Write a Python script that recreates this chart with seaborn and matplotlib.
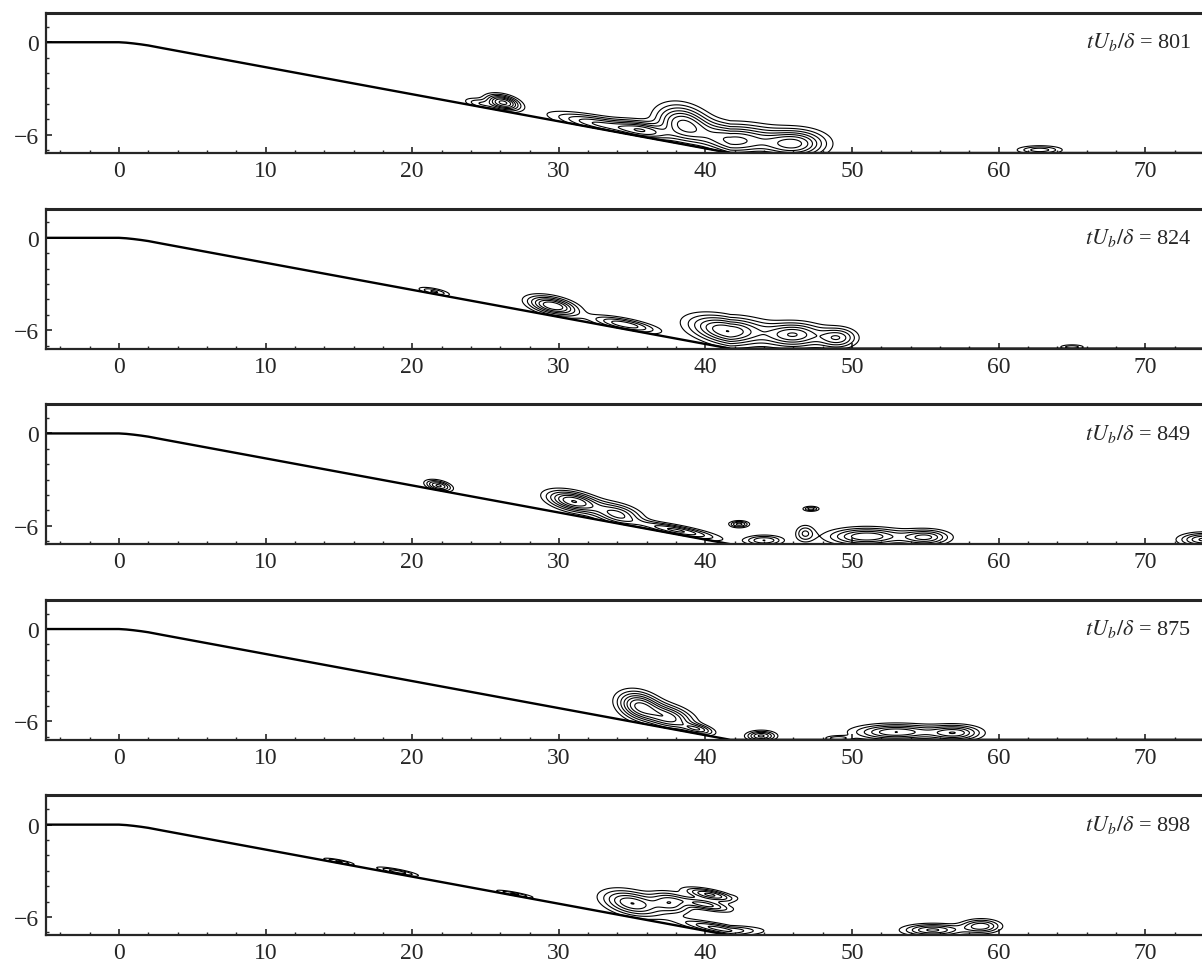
import numpy as np
import pandas as pd
import matplotlib
matplotlib.use("Agg")
import matplotlib.pyplot as plt
from matplotlib.ticker import MultipleLocator
import seaborn as sns

# ---------------- data ----------------
times = [801, 824, 849, 875, 898]
x_ticks = [0, 10, 20, 30, 40, 50, 60, 70]
y_ticks = [-6, 0]

# bed profile (flat, smooth bend, 10 degree slope, flat floor)
bed_x = [-5.0, 0.0, 0.5, 1.0, 1.5, 2.0, 3.0, 41.7, 75.0]
bed_y = [0.0, 0.0, -0.03, -0.08, -0.14, -0.21, -0.39, -7.2, -7.2]

# contour blobs per snapshot: (x centre, height above bed, x spread, height spread, amplitude)
blobs_801 = [(24.6, 0.20, 1.0, 0.30, 0.30), (26.2, 0.55, 1.0, 0.42, 0.90),
             (33.0, 0.30, 3.0, 0.45, 0.60), (35.8, 0.45, 1.6, 0.50, 0.60),
             (38.5, 1.30, 1.6, 1.05, 0.85), (42.0, 0.80, 2.4, 0.90, 0.90),
             (46.0, 0.60, 1.9, 0.80, 0.90), (62.8, 0.20, 1.4, 0.25, 0.40)]
blobs_824 = [(21.5, 0.15, 1.0, 0.20, 0.35), (29.6, 0.65, 1.5, 0.50, 0.85),
             (34.5, 0.30, 2.0, 0.35, 0.55), (41.5, 1.10, 2.3, 0.80, 0.85),
             (46.0, 0.90, 1.8, 0.70, 0.70), (49.0, 0.70, 1.2, 0.60, 0.55),
             (65.0, 0.10, 0.8, 0.15, 0.30)]
blobs_849 = [(21.8, 0.30, 0.8, 0.30, 0.60), (31.0, 0.90, 1.6, 0.55, 0.85),
             (34.0, 0.60, 1.5, 0.60, 0.60), (38.0, 0.25, 2.5, 0.30, 0.60),
             (42.3, 1.30, 0.6, 0.20, 0.50), (44.0, 0.25, 1.2, 0.30, 0.45),
             (46.8, 0.70, 0.6, 0.50, 0.35), (47.2, 2.30, 0.5, 0.15, 0.40),
             (51.0, 0.50, 2.3, 0.50, 0.70), (55.0, 0.45, 1.5, 0.45, 0.60),
             (74.0, 0.30, 1.5, 0.40, 0.60)]
blobs_875 = [(35.5, 1.10, 1.3, 0.80, 0.85), (37.5, 0.70, 1.5, 0.70, 0.75),
             (39.5, 0.30, 1.0, 0.30, 0.50), (43.8, 0.25, 0.9, 0.30, 0.60),
             (49.0, 0.10, 0.8, 0.15, 0.30), (53.0, 0.50, 2.5, 0.45, 0.70),
             (57.0, 0.45, 1.6, 0.45, 0.65)]
blobs_898 = [(15.0, 0.10, 1.0, 0.12, 0.35), (19.0, 0.15, 1.3, 0.15, 0.40),
             (27.0, 0.10, 1.2, 0.12, 0.35), (35.0, 0.90, 1.8, 0.70, 0.70),
             (37.6, 1.40, 1.2, 0.60, 0.50), (40.3, 2.40, 1.5, 0.30, 0.60),
             (40.0, 1.70, 1.6, 0.30, 0.50), (41.0, 0.30, 2.5, 0.30, 0.50),
             (55.5, 0.35, 1.8, 0.35, 0.60), (58.8, 0.60, 1.2, 0.40, 0.55)]
all_blobs = [blobs_801, blobs_824, blobs_849, blobs_875, blobs_898]
levels = [0.12, 0.22, 0.33, 0.45, 0.57, 0.70, 0.85]

# ---------------- style ----------------
sns.set_style("ticks")
plt.rcParams["font.family"] = ["Liberation Serif", "DejaVu Serif"]
plt.rcParams["mathtext.fontset"] = "stix"

W, H = 1202, 970
fig = plt.figure(figsize=(W / 100, H / 100), dpi=100)

xlim = (-4.98, 73.87)
ylim = (-7.2, 1.9)

gx = np.linspace(xlim[0], xlim[1], 1600)
gy = np.linspace(ylim[0], ylim[1], 320)
X, Y = np.meshgrid(gx, gy)
BED = np.interp(X, bed_x, bed_y)
N = Y - BED

bed_df = pd.DataFrame({"x": bed_x, "y": bed_y})

for i, (t, blobs) in enumerate(zip(times, all_blobs)):
    top_px = 14 + 195.6 * i
    h_px = 140
    ax = fig.add_axes([46 / W, 1 - (top_px + h_px) / H, 1 - 46 / W, h_px / H])
    F = np.zeros_like(X)
    for cx, cn, sx, sn, a in blobs:
        F += a * np.exp(-((X - cx) / sx) ** 2 - ((N - cn) / sn) ** 2)
    F = np.where(N >= 0, F, 0.0)
    ax.contour(X, Y, F, levels=levels, colors="k", linewidths=0.8)
    sns.lineplot(data=bed_df, x="x", y="y", ax=ax, color="k", lw=1.7,
                 estimator=None, sort=False)
    ax.set_xlim(*xlim)
    ax.set_ylim(*ylim)
    ax.set_xticks(x_ticks)
    ax.set_yticks(y_ticks)
    ax.set_yticklabels(["\u22126", "0"])
    ax.xaxis.set_minor_locator(MultipleLocator(2))
    ax.yaxis.set_minor_locator(MultipleLocator(1))
    ax.tick_params(axis="both", which="major", direction="in", length=4,
                   width=1.2, labelsize=17, pad=5)
    ax.tick_params(axis="both", which="minor", direction="in", length=2, width=1)
    ax.set_xlabel("")
    ax.set_ylabel("")
    for s in ["left", "bottom"]:
        ax.spines[s].set_linewidth(1.6)
    ax.spines["top"].set_linewidth(2.2)
    ax.spines["right"].set_visible(False)
    ax.text(73.1, 0.05, r"$tU_b/\delta$ = " + str(t), ha="right", va="center",
            fontsize=16)

fig.savefig("out.png", dpi=100)
